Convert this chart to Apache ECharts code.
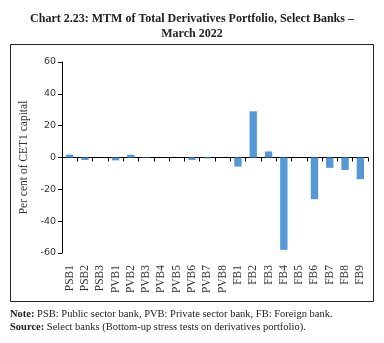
<!DOCTYPE html>
<html>
<head>
<meta charset="utf-8">
<script src="https://cdn.jsdelivr.net/npm/echarts@6/dist/echarts.min.js"></script>
<style>
  html, body { margin: 0; padding: 0; background: #fff; }
  #chart { width: 384px; height: 343px; }
</style>
</head>
<body>
<div id="chart"></div>
<script>
// Banks, grouped by ownership type
var banks = ['PSB1', 'PSB2', 'PSB3', 'PVB1', 'PVB2', 'PVB3', 'PVB4', 'PVB5', 'PVB6', 'PVB7', 'PVB8',
             'FB1', 'FB2', 'FB3', 'FB4', 'FB5', 'FB6', 'FB7', 'FB8', 'FB9'];
// MTM of total derivatives portfolio, per cent of CET1 capital
var mtmValues = [1.8, -1.6, 0, -1.8, 1.7, -0.3, 0, 0, -1.5, -0.5, 0,
                 -5.7, 29, 3.8, -58, 0, -26.2, -6.5, -7.8, -13.6];
// Value axis ticks
var yTicks = [-60, -40, -20, 0, 20, 40, 60];

var titleLines = ['Chart 2.23: MTM of Total Derivatives Portfolio, Select Banks \u2013', 'March 2022'];
var noteText = 'PSB: Public sector bank, PVB: Private sector bank, FB: Foreign bank.';
var sourceText = 'Select banks (Bottom-up stress tests on derivatives portfolio).';

var serif = '"Liberation Serif", "DejaVu Serif", serif';
var chart = echarts.init(document.getElementById('chart'), null, { renderer: 'canvas' });

chart.setOption({
  animation: false,
  backgroundColor: '#ffffff',
  title: {
    text: titleLines.join('\n'),
    left: 'center',
    top: 6,
    textStyle: { fontFamily: serif, fontWeight: 'bold', fontSize: 12, lineHeight: 15, color: '#222' }
  },
  grid: { left: 62, right: 16, top: 62, bottom: 90, containLabel: false },
  xAxis: [
    {
      // category labels along the bottom of the plot
      type: 'category',
      data: banks,
      position: 'bottom',
      axisLine: { show: false, onZero: false },
      axisTick: { show: false },
      axisLabel: {
        rotate: 90,
        interval: 0,
        margin: 12,
        fontFamily: serif,
        fontSize: 11.5,
        color: '#333'
      }
    },
    {
      // baseline through zero with tick marks between banks
      type: 'category',
      data: banks,
      position: 'bottom',
      axisLine: { show: true, onZero: true, lineStyle: { color: '#000', width: 1 } },
      axisTick: { show: true, length: 4, interval: 0, lineStyle: { color: '#000' } },
      axisLabel: { show: false }
    }
  ],
  yAxis: {
    type: 'value',
    min: yTicks[0],
    max: yTicks[yTicks.length - 1],
    interval: 20,
    name: 'Per cent of CET1 capital',
    nameLocation: 'middle',
    nameGap: 28,
    nameTextStyle: { fontFamily: serif, fontSize: 11.5, color: '#333' },
    axisLine: { show: true, lineStyle: { color: '#000' } },
    axisTick: { show: true, length: 4, lineStyle: { color: '#000' } },
    axisLabel: { fontFamily: '"DejaVu Sans", sans-serif', fontSize: 9.5, color: '#333', margin: 6 },
    splitLine: { show: false }
  },
  series: [{
    type: 'bar',
    xAxisIndex: 0,
    data: mtmValues,
    barWidth: '48%',
    itemStyle: { color: '#5598d7' }
  }],
  graphic: [
    {
      type: 'rect',
      shape: { x: 10.5, y: 44.5, width: 363, height: 257 },
      style: { fill: null, stroke: '#222', lineWidth: 1 },
      z: -1
    },
    {
      type: 'text',
      left: 10,
      top: 308,
      style: {
        text: '{b|Note:} ' + noteText + '\n{b|Source:} ' + sourceText,
        font: '10.5px ' + serif,
        fill: '#222',
        lineHeight: 13,
        rich: {
          b: { fontFamily: serif, fontWeight: 'bold', fontSize: 10.5, fill: '#222' }
        }
      }
    }
  ]
});
</script>
</body>
</html>
